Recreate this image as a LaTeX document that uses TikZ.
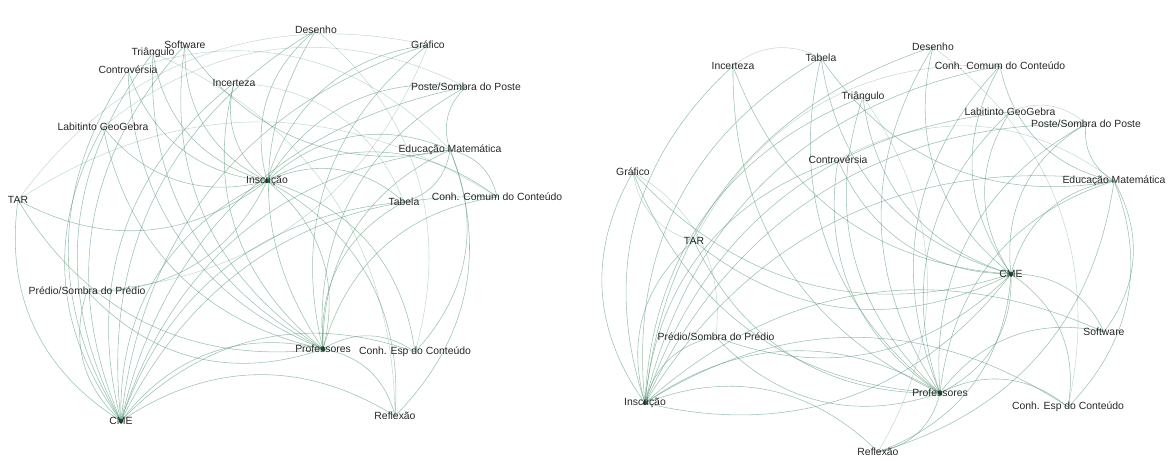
\documentclass[tikz,border=0pt]{standalone}
\usepackage{fontspec}
\setmainfont{Liberation Sans}
\definecolor{edgecol}{RGB}{88,152,122}
\definecolor{hubcol}{RGB}{20,90,55}
\tikzset{
  edge/.style={draw=edgecol, line width=0.55pt, opacity=0.6},
  faint/.style={edge, opacity=0.35},
  lbl/.style={font=\fontsize{10.4}{12}\selectfont, text=black!85, inner sep=0pt},
  hubdot/.style={fill=hubcol, draw=none, circle, minimum size=4.5pt, inner sep=0pt},
  smalldot/.style={fill=edgecol!70, draw=none, circle, minimum size=2pt, inner sep=0pt}
}
\newcommand\drawedges[1]{%
  \foreach \t in {ins,prof,soft,tri,contr,inc,des,graf,poste,lab,edu,tar,tab,ccc,pred,cesp,ref}
    \draw[edge] (#1cme) to[bend left=33] (#1\t);
  \foreach \t in {prof,soft,tri,contr,inc,des,graf,poste,lab,edu,tar,tab,ccc,pred,cesp,ref}
    \draw[edge] (#1ins) to[bend left=33] (#1\t);
  \foreach \t in {soft,tri,contr,inc,des,graf,poste,lab,edu,tar,tab,ccc,pred,cesp,ref}
    \draw[edge] (#1prof) to[bend left=33] (#1\t);
  \foreach \t in {tab,ccc,cesp,ref,soft,poste}
    \draw[edge] (#1edu) to[bend left=33] (#1\t);
  \foreach \s/\t in {tar/graf,tar/ccc,lab/poste,contr/edu,des/cesp,inc/tab,tri/ref,graf/pred}
    \draw[faint] (#1\s) to[bend left=33] (#1\t);
}
\begin{document}
\begin{tikzpicture}[x=1pt,y=-1pt]
\useasboundingbox (0,0) rectangle (1168,462);
% ---------- left graph vertices ----------
\coordinate (Lsoft) at (185,45);
\coordinate (Ltri) at (153,53);
\coordinate (Lcontr) at (128,70);
\coordinate (Linc) at (234,83);
\coordinate (Ldes) at (316,30);
\coordinate (Lgraf) at (428,45);
\coordinate (Lposte) at (466,87);
\coordinate (Llab) at (103,127);
\coordinate (Ledu) at (450,150);
\coordinate (Lins) at (267,181);
\coordinate (Ltar) at (18,200);
\coordinate (Ltab) at (404,202);
\coordinate (Lccc) at (497,197);
\coordinate (Lpred) at (87,291);
\coordinate (Lprof) at (323,349);
\coordinate (Lcesp) at (415,352);
\coordinate (Lcme) at (121,421);
\coordinate (Lref) at (395,416);
% ---------- right graph vertices ----------
\coordinate (Rinc) at (733,66);
\coordinate (Rtab) at (821,58);
\coordinate (Rdes) at (933,47);
\coordinate (Rccc) at (1000,66);
\coordinate (Rtri) at (863,97);
\coordinate (Rlab) at (1010,112);
\coordinate (Rposte) at (1086,124);
\coordinate (Rgraf) at (633,172);
\coordinate (Rcontr) at (838,160);
\coordinate (Redu) at (1114,181);
\coordinate (Rtar) at (694,241);
\coordinate (Rcme) at (1011,274);
\coordinate (Rsoft) at (1104,332);
\coordinate (Rpred) at (716,337);
\coordinate (Rins) at (645,403);
\coordinate (Rprof) at (940,393);
\coordinate (Rcesp) at (1068,407);
\coordinate (Rref) at (878,452);
% ---------- edges ----------
\drawedges{L}
\drawedges{R}
% ---------- dots ----------
\foreach \p in {L,R}{
  \node[hubdot] (\p cme-d) at (\p cme) {};
  \node[hubdot] (\p ins-d) at (\p ins) {};
  \node[hubdot] (\p prof-d) at (\p prof) {};
  \node[smalldot] (\p edu-d) at (\p edu) {};
}
% ---------- labels ----------
\foreach \p in {L,R}{
  \foreach \n/\txt in {soft/Software,tri/Triângulo,contr/Controvérsia,inc/Incerteza,des/Desenho,graf/Gráfico,poste/Poste\slash Sombra do Poste,lab/Labitinto GeoGebra,edu/Educação Matemática,ins/Inscrição,tar/TAR,tab/Tabela,ccc/Conh. Comum do Conteúdo,pred/Prédio\slash Sombra do Prédio,prof/Professores,cesp/Conh. Esp do Conteúdo,cme/CME,ref/Reflexão}
    \node[lbl] (\p\n-t) at (\p\n) {\txt};
}
\end{tikzpicture}
\end{document}
